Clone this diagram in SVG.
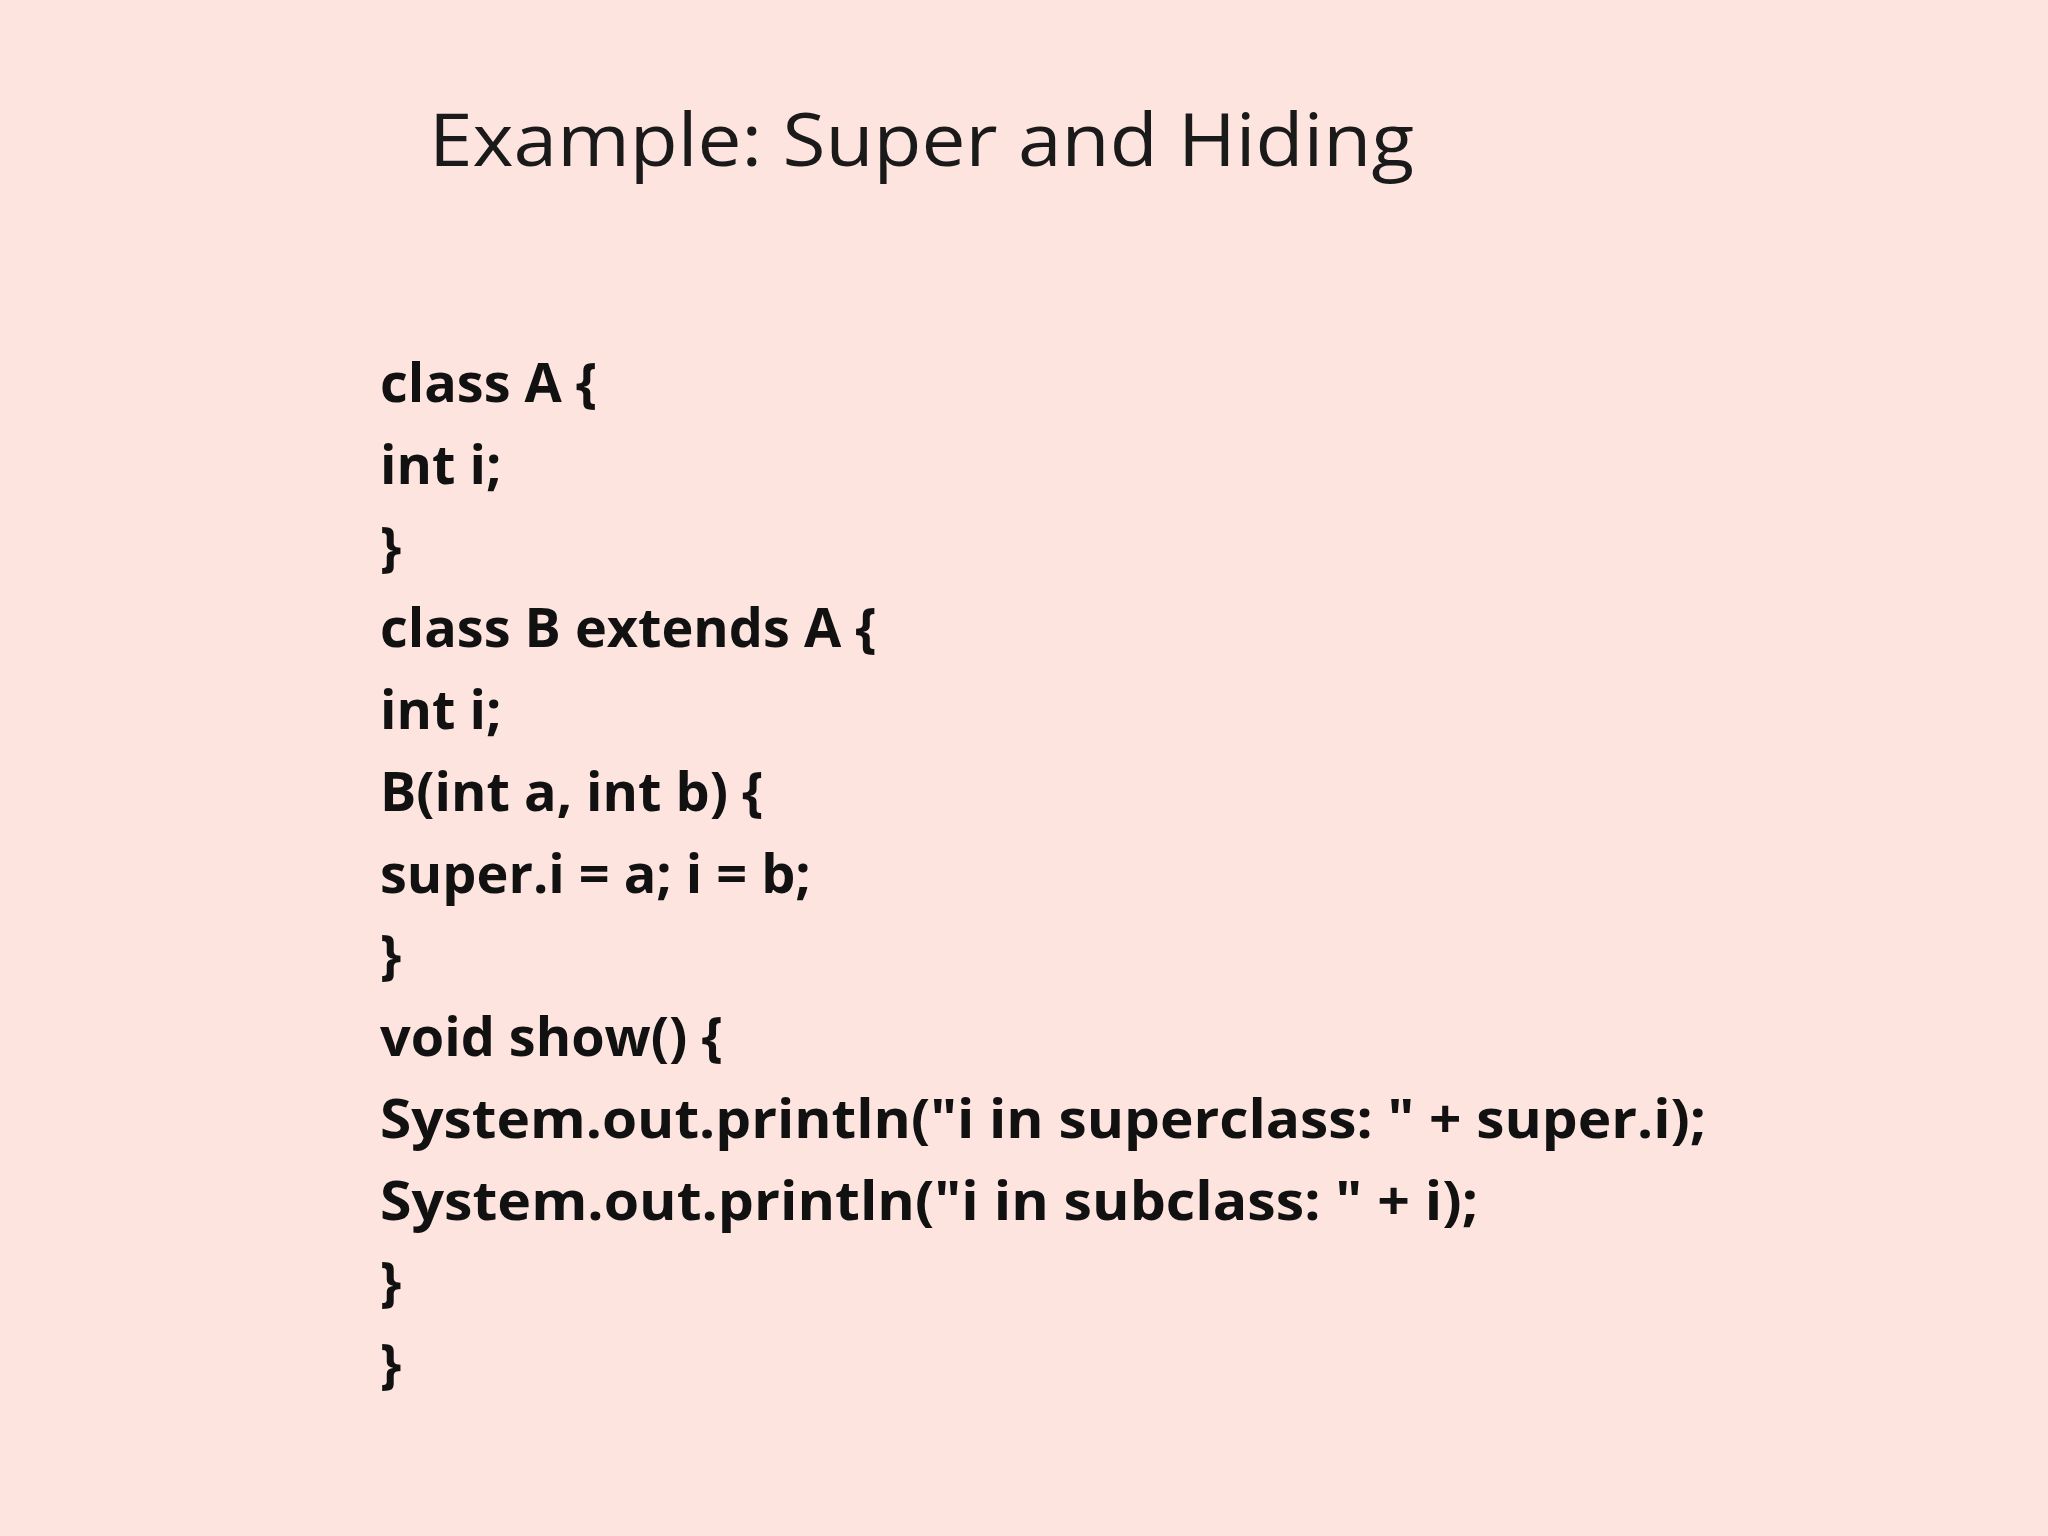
<svg xmlns="http://www.w3.org/2000/svg" width="2048" height="1536" viewBox="0 0 2048 1536">
<style>
.t{font-family:"Open Sans","Liberation Sans",sans-serif;font-size:74px;fill:#1a1a1a}
.c{font-family:"Open Sans","Liberation Sans",sans-serif;font-size:54px;font-weight:bold;fill:#111}
</style>
<rect width="2048" height="1536" fill="#FDE4DE"/>
<text class="t" x="429" y="166" textLength="985" lengthAdjust="spacingAndGlyphs">Example: Super and Hiding</text>
<g id="code">
<text class="c" x="380" y="402">class A {</text>
<text class="c" x="380" y="484">int i;</text>
<text class="c" x="380" y="566">}</text>
<text class="c" x="380" y="647">class B extends A {</text>
<text class="c" x="380" y="729">int i;</text>
<text class="c" x="380" y="811">B(int a, int b) {</text>
<text class="c" x="380" y="893">super.i = a; i = b;</text>
<text class="c" x="380" y="974">}</text>
<text class="c" x="380" y="1056">void show() {</text>
<text class="c" x="380" y="1138" textLength="1326" lengthAdjust="spacingAndGlyphs">System.out.println("i in superclass: " + super.i);</text>
<text class="c" x="380" y="1220" textLength="1098" lengthAdjust="spacingAndGlyphs">System.out.println("i in subclass: " + i);</text>
<text class="c" x="380" y="1301">}</text>
<text class="c" x="380" y="1383">}</text>
</g>
</svg>
